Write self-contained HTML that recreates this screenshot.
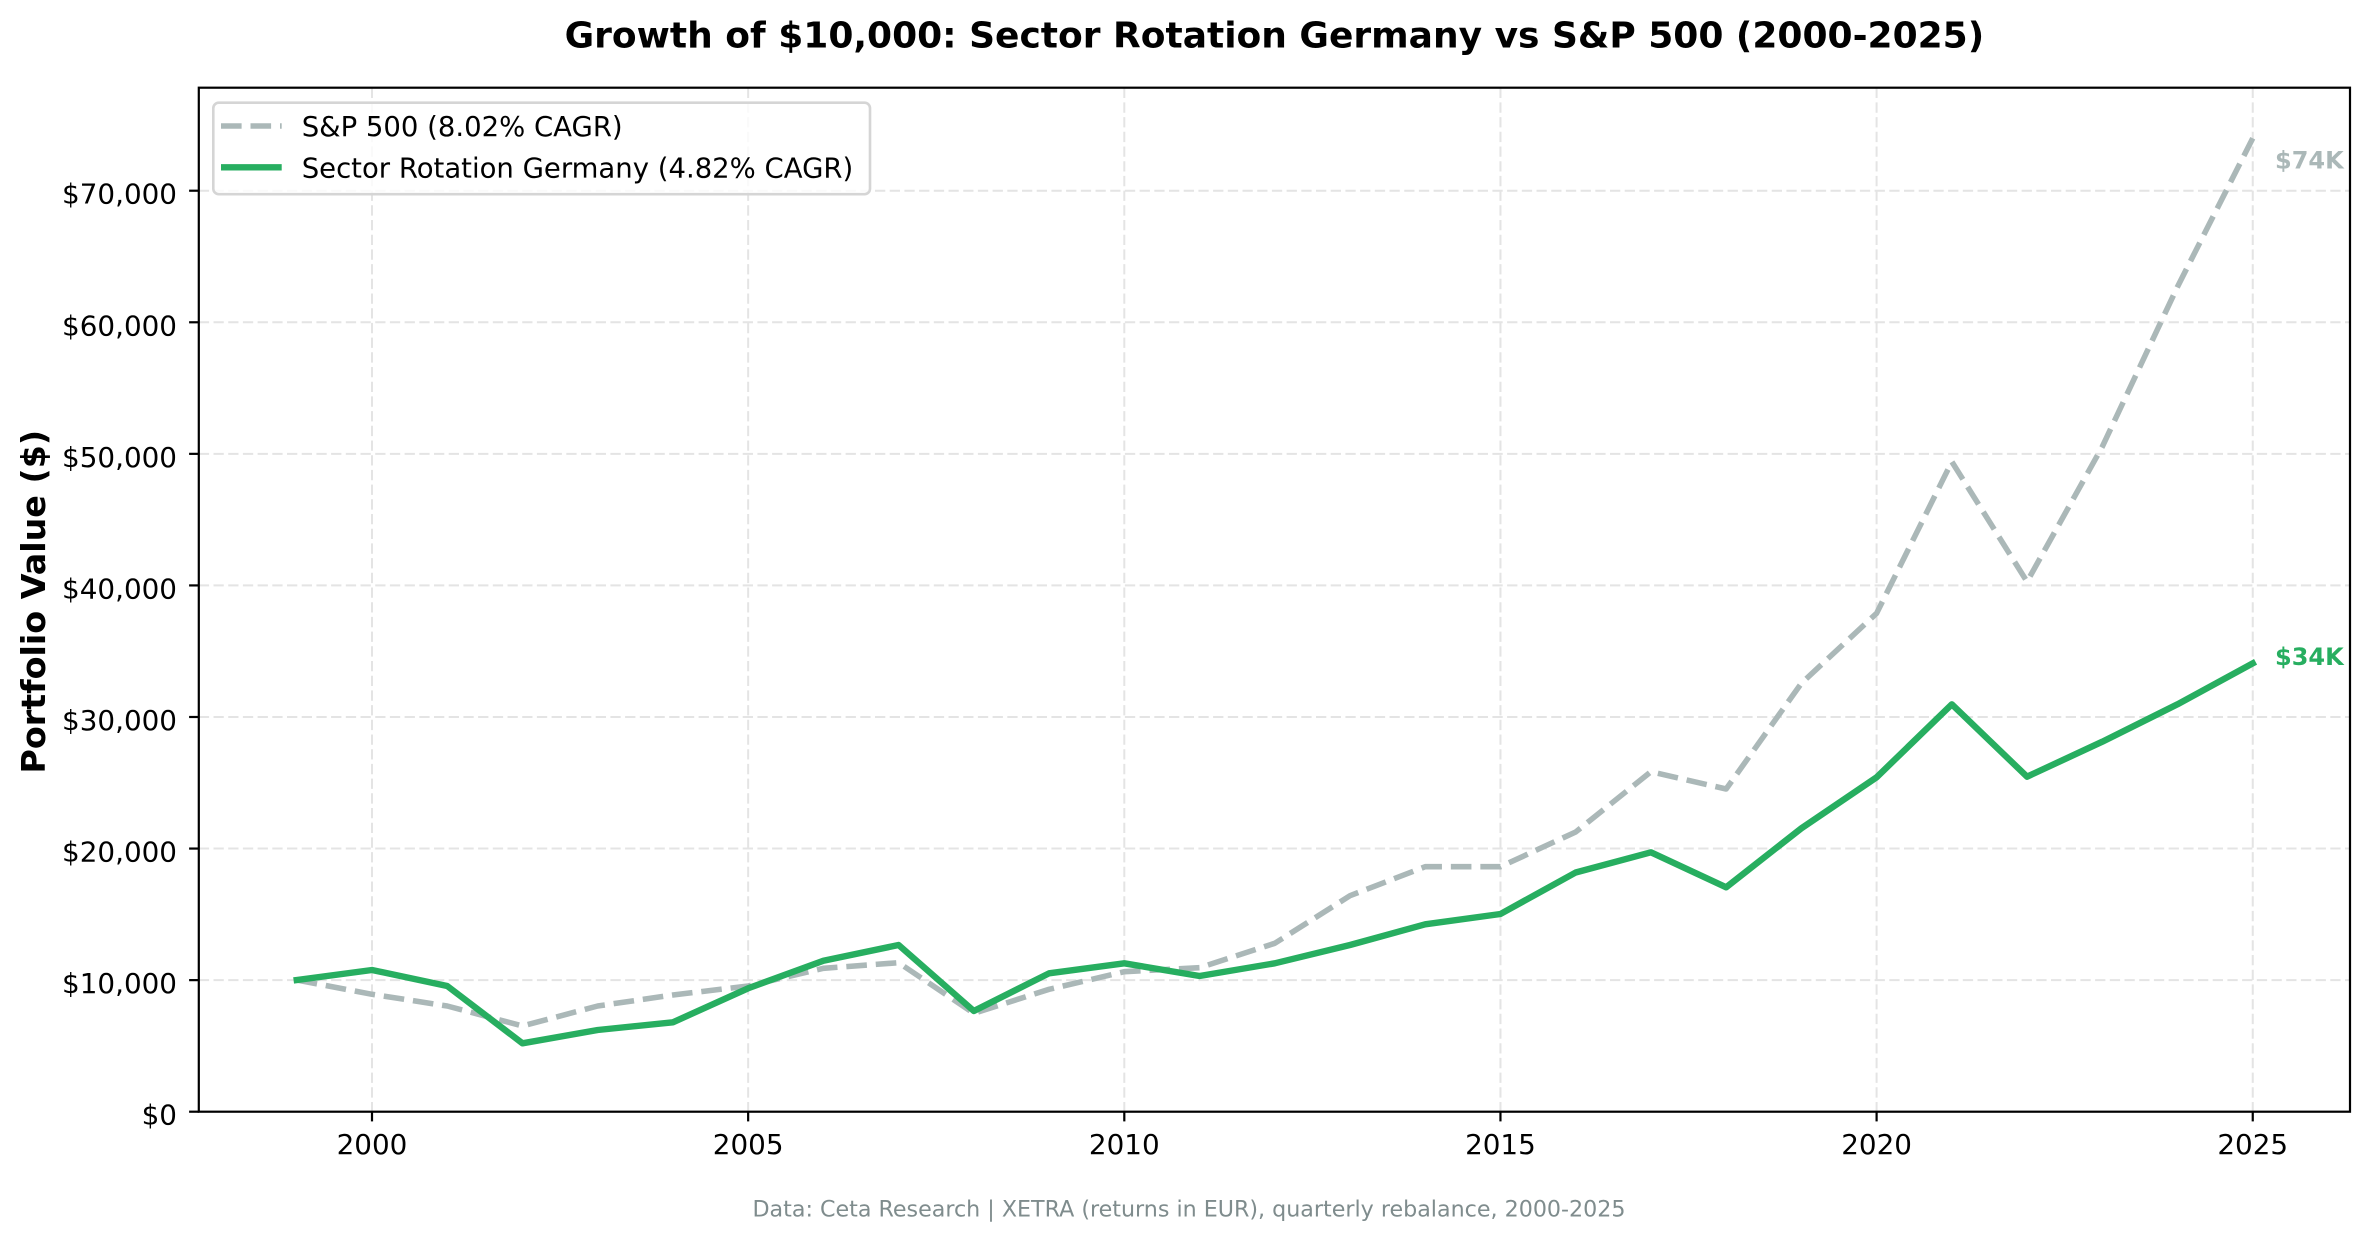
<!DOCTYPE html>
<html>
<head>
<meta charset="utf-8">
<style>
  html, body { margin: 0; padding: 0; background: #ffffff; }
  svg { display: block; }
  text { font-family: "DejaVu Sans", "Liberation Sans", sans-serif; }
</style>
</head>
<body>
<svg width="2370" height="1239" viewBox="0 0 2370 1239" xmlns="http://www.w3.org/2000/svg">
  <rect x="0" y="0" width="2370" height="1239" fill="#ffffff"/>

  <!-- Title -->
  <text x="1274.4" y="47.3" text-anchor="middle" font-size="36" font-weight="bold" fill="#000">Growth of $10,000: Sector Rotation Germany vs S&amp;P 500 (2000-2025)</text>

  <!-- Grid -->
  <g stroke="#e4e4e4" stroke-width="2" stroke-dasharray="10.3 4.4" fill="none">
    <line x1="372" y1="87.7" x2="372" y2="1111.7"/>
    <line x1="748.15" y1="87.7" x2="748.15" y2="1111.7"/>
    <line x1="1124.3" y1="87.7" x2="1124.3" y2="1111.7"/>
    <line x1="1500.45" y1="87.7" x2="1500.45" y2="1111.7"/>
    <line x1="1876.6" y1="87.7" x2="1876.6" y2="1111.7"/>
    <line x1="2252.75" y1="87.7" x2="2252.75" y2="1111.7"/>
    <line x1="198.8" y1="980.13" x2="2350" y2="980.13"/>
    <line x1="198.8" y1="848.56" x2="2350" y2="848.56"/>
    <line x1="198.8" y1="716.99" x2="2350" y2="716.99"/>
    <line x1="198.8" y1="585.42" x2="2350" y2="585.42"/>
    <line x1="198.8" y1="453.85" x2="2350" y2="453.85"/>
    <line x1="198.8" y1="322.28" x2="2350" y2="322.28"/>
    <line x1="198.8" y1="190.71" x2="2350" y2="190.71"/>
  </g>

  <!-- S&P 500 dashed -->
  <polyline fill="none" stroke="#abb8b8" stroke-width="5.56" stroke-dasharray="20.6 8.9" stroke-linejoin="round" stroke-linecap="butt"
    points="296.77,980 372,994.3 447.23,1006 522.46,1026 597.69,1006 672.92,995 748.15,986 823.38,968.3 898.61,962.7 973.84,1013.3 1049.07,989.3 1124.3,971.7 1199.53,967.7 1274.76,943.3 1349.99,895.7 1425.22,866.7 1500.45,866.7 1575.68,832 1650.91,771.7 1726.14,789 1801.37,683.3 1876.6,613.3 1951.83,461.7 2027.06,581.7 2102.29,446.7 2177.52,286.7 2252.75,138.3"/>

  <!-- Sector Rotation Germany -->
  <polyline fill="none" stroke="#27ae60" stroke-width="6.4" stroke-linejoin="round" stroke-linecap="square"
    points="296.77,980 372,970 447.23,986 522.46,1043.3 597.69,1030 672.92,1022.3 748.15,988.3 823.38,960.7 898.61,945 973.84,1011 1049.07,973.3 1124.3,963.3 1199.53,976 1274.76,963.3 1349.99,945 1425.22,924.3 1500.45,914 1575.68,872.5 1650.91,852.3 1726.14,887.3 1801.37,828.3 1876.6,777.3 1951.83,704.3 2027.06,776.7 2102.29,741.7 2177.52,704.3 2252.75,663.3"/>

  <!-- End labels -->
  <text x="2275" y="168.5" font-size="24" font-weight="bold" fill="#abb8b8">$74K</text>
  <text x="2275" y="665" font-size="24" font-weight="bold" fill="#27ae60">$34K</text>

  <!-- Spines -->
  <rect x="198.8" y="87.7" width="2151.2" height="1024" fill="none" stroke="#000" stroke-width="2.2"/>

  <!-- Y ticks -->
  <g stroke="#000" stroke-width="2.2">
    <line x1="189.1" y1="1111.7" x2="198.8" y2="1111.7"/>
    <line x1="189.1" y1="980.13" x2="198.8" y2="980.13"/>
    <line x1="189.1" y1="848.56" x2="198.8" y2="848.56"/>
    <line x1="189.1" y1="716.99" x2="198.8" y2="716.99"/>
    <line x1="189.1" y1="585.42" x2="198.8" y2="585.42"/>
    <line x1="189.1" y1="453.85" x2="198.8" y2="453.85"/>
    <line x1="189.1" y1="322.28" x2="198.8" y2="322.28"/>
    <line x1="189.1" y1="190.71" x2="198.8" y2="190.71"/>
  </g>
  <g font-size="27.8" fill="#000" text-anchor="end">
    <text x="177" y="1124.7">$0</text>
    <text x="177" y="993.1">$10,000</text>
    <text x="177" y="861.6">$20,000</text>
    <text x="177" y="730">$30,000</text>
    <text x="177" y="598.4">$40,000</text>
    <text x="177" y="466.9">$50,000</text>
    <text x="177" y="335.3">$60,000</text>
    <text x="177" y="203.7">$70,000</text>
  </g>

  <!-- X ticks -->
  <g stroke="#000" stroke-width="2.2">
    <line x1="372" y1="1111.7" x2="372" y2="1121.4"/>
    <line x1="748.15" y1="1111.7" x2="748.15" y2="1121.4"/>
    <line x1="1124.3" y1="1111.7" x2="1124.3" y2="1121.4"/>
    <line x1="1500.45" y1="1111.7" x2="1500.45" y2="1121.4"/>
    <line x1="1876.6" y1="1111.7" x2="1876.6" y2="1121.4"/>
    <line x1="2252.75" y1="1111.7" x2="2252.75" y2="1121.4"/>
  </g>
  <g font-size="27.8" fill="#000" text-anchor="middle">
    <text x="372" y="1154">2000</text>
    <text x="748.15" y="1154">2005</text>
    <text x="1124.3" y="1154">2010</text>
    <text x="1500.45" y="1154">2015</text>
    <text x="1876.6" y="1154">2020</text>
    <text x="2252.75" y="1154">2025</text>
  </g>

  <!-- Y axis label -->
  <text transform="translate(45,601.7) rotate(-90)" text-anchor="middle" font-size="33.3" font-weight="bold" fill="#000">Portfolio Value ($)</text>

  <!-- Legend -->
  <rect x="213.3" y="102.7" width="656.7" height="91.5" rx="5.5" ry="5.5" fill="#ffffff" fill-opacity="0.8" stroke="#d5d5d5" stroke-width="2.6"/>
  <line x1="221" y1="126" x2="281.7" y2="126" stroke="#abb8b8" stroke-width="5.56" stroke-dasharray="20.6 8.9"/>
  <line x1="221" y1="167.3" x2="281.7" y2="167.3" stroke="#27ae60" stroke-width="6.4"/>
  <text x="301.7" y="136" font-size="27.5" fill="#000">S&amp;P 500 (8.02% CAGR)</text>
  <text x="301.7" y="177.3" font-size="27.5" fill="#000">Sector Rotation Germany (4.82% CAGR)</text>

  <!-- Footer -->
  <text x="1189" y="1216.7" text-anchor="middle" font-size="22.2" fill="#7f8c8d">Data: Ceta Research | XETRA (returns in EUR), quarterly rebalance, 2000-2025</text>
</svg>
</body>
</html>
